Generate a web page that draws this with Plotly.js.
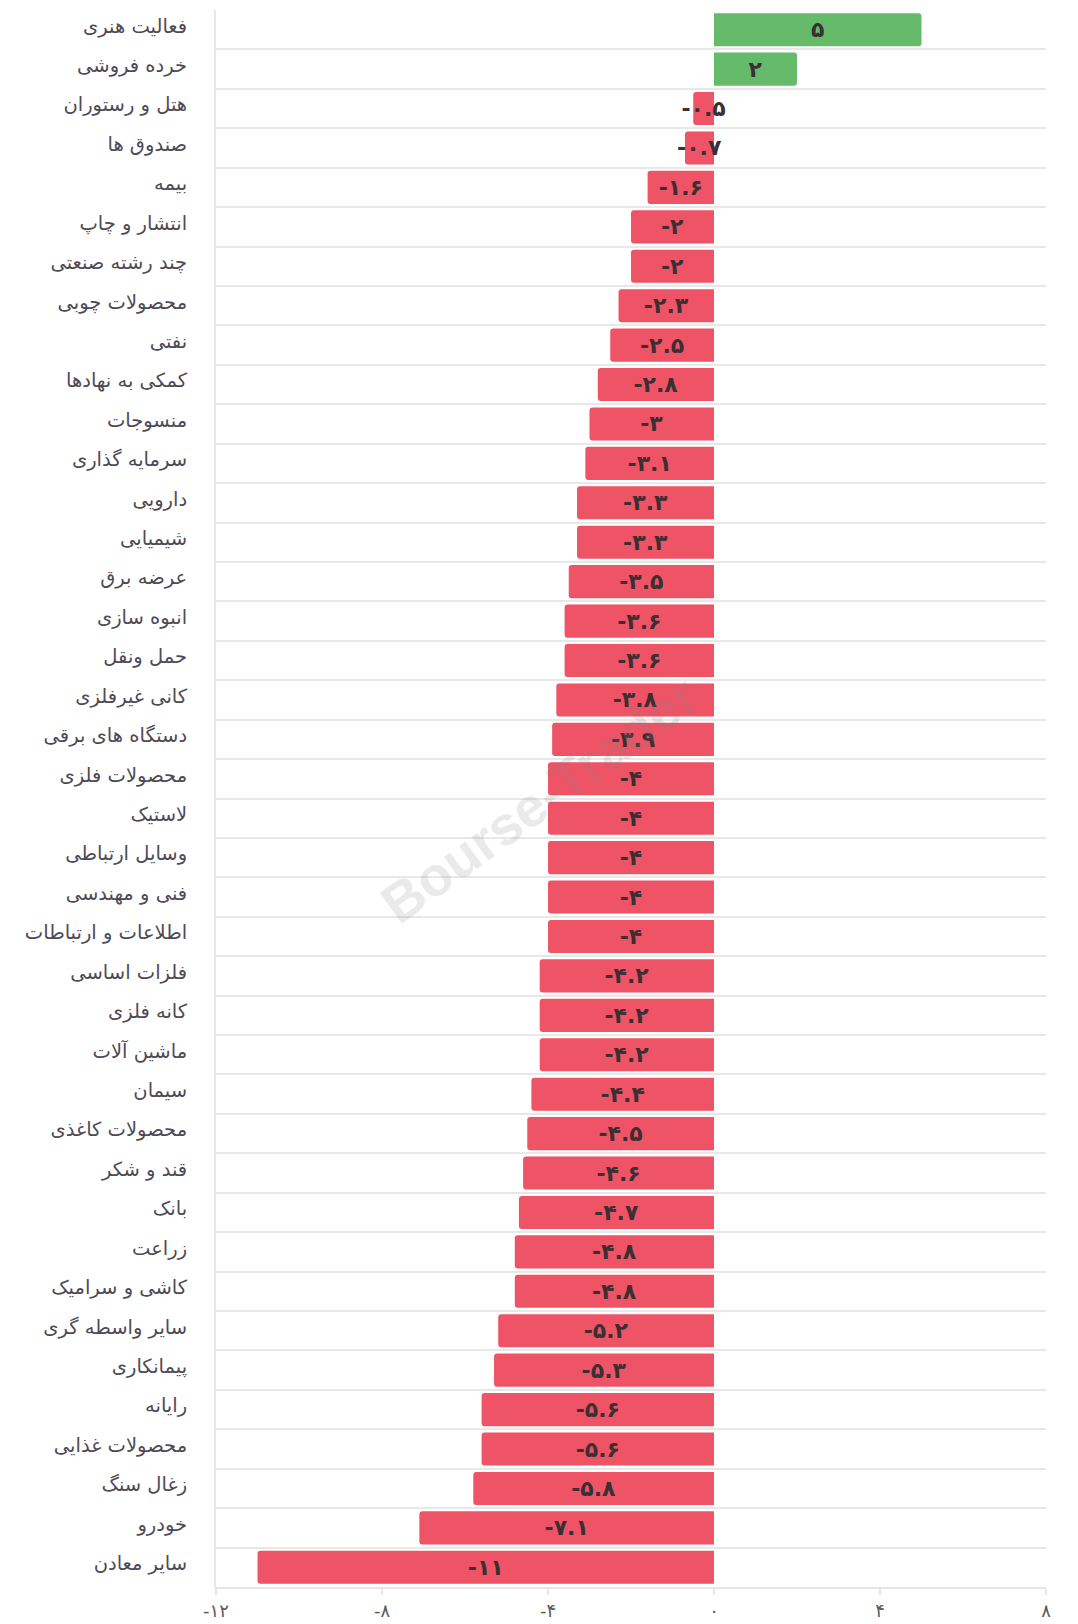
<!DOCTYPE html>
<html>
<head>
<meta charset="utf-8">
<script src="https://cdn.plot.ly/plotly-3.0.1.min.js"></script>
<style>html,body{margin:0;padding:0;background:#fff;}#chart{width:1078px;height:1624px;}</style>
</head>
<body>
<div id="chart"></div>
<script>
const categories = [
  "فعالیت هنری", "خرده فروشی", "هتل و رستوران", "صندوق ها", "بیمه",
  "انتشار و چاپ", "چند رشته صنعتی", "محصولات چوبی", "نفتی", "کمکی به نهادها",
  "منسوجات", "سرمایه گذاری", "دارویی", "شیمیایی", "عرضه برق",
  "انبوه سازی", "حمل ونقل", "کانی غیرفلزی", "دستگاه های برقی", "محصولات فلزی",
  "لاستیک", "وسایل ارتباطی", "فنی و مهندسی", "اطلاعات و ارتباطات", "فلزات اساسی",
  "کانه فلزی", "ماشین آلات", "سیمان", "محصولات کاغذی", "قند و شکر",
  "بانک", "زراعت", "کاشی و سرامیک", "سایر واسطه گری", "پیمانکاری",
  "رایانه", "محصولات غذایی", "زغال سنگ", "خودرو", "سایر معادن"
];
const values = [
  5, 2, -0.5, -0.7, -1.6,
  -2, -2, -2.3, -2.5, -2.8,
  -3, -3.1, -3.3, -3.3, -3.5,
  -3.6, -3.6, -3.8, -3.9, -4,
  -4, -4, -4, -4, -4.2,
  -4.2, -4.2, -4.4, -4.5, -4.6,
  -4.7, -4.8, -4.8, -5.2, -5.3,
  -5.6, -5.6, -5.8, -7.1, -11
];
const xTickValues = [-12, -8, -4, 0, 4, 8];
const xTickLabels = ["-۱۲", "-۸", "-۴", "۰", "۴", "۸"];
const watermark = "Bourse-Trader";

const faDigits = "۰۱۲۳۴۵۶۷۸۹";
function toFa(v) {
  return String(v).replace(/[0-9]/g, d => faDigits[+d]);
}
const labels = values.map(toFa);
const colors = values.map(v => v >= 0 ? "#66bb6a" : "#ef5366");

const trace = {
  type: "bar",
  orientation: "h",
  y: categories,
  x: values,
  text: labels,
  textposition: "inside",
  insidetextanchor: "middle",
  constraintext: "none",
  textangle: 0,
  cliponaxis: false,
  textfont: {family: "DejaVu Sans", size: 22, color: "#3a2f33", weight: "bold"},
  marker: {color: colors, cornerradius: 3, line: {width: 0}},
  hoverinfo: "none"
};

const layout = {
  width: 1078,
  height: 1624,
  margin: {l: 216, r: 32, t: 10, b: 37},
  paper_bgcolor: "#ffffff",
  plot_bgcolor: "#ffffff",
  bargap: 0.16,
  showlegend: false,
  font: {family: "DejaVu Sans", color: "#555555"},
  xaxis: {
    range: [-12, 8],
    tickvals: xTickValues,
    ticktext: xTickLabels,
    showgrid: false,
    zeroline: false,
    showline: true,
    linecolor: "#e6e6e6",
    linewidth: 2,
    ticks: "outside",
    ticklen: 6,
    tickwidth: 2,
    tickcolor: "#e6e6e6",
    tickfont: {family: "DejaVu Sans", size: 18, color: "#5a5a5a"},
    fixedrange: true
  },
  yaxis: {
    type: "category",
    autorange: "reversed",
    tickson: "boundaries",
    showgrid: true,
    gridcolor: "#e8e8e8",
    gridwidth: 2,
    showline: true,
    linecolor: "#e8e8e8",
    linewidth: 2,
    ticks: "",
    ticklabelstandoff: 23,
    ticklabelshift: 4,
    tickfont: {family: "DejaVu Sans", size: 19.5, color: "#4e4a55"},
    fixedrange: true
  },
  annotations: [{
    text: watermark,
    xref: "paper", yref: "paper",
    x: 0.39, y: 0.499,
    showarrow: false,
    textangle: -36,
    font: {family: "Liberation Sans", size: 55, color: "rgba(130,130,130,0.17)", weight: "bold"}
  }]
};

Plotly.newPlot("chart", [trace], layout, {displayModeBar: false, staticPlot: true});
</script>
</body>
</html>
